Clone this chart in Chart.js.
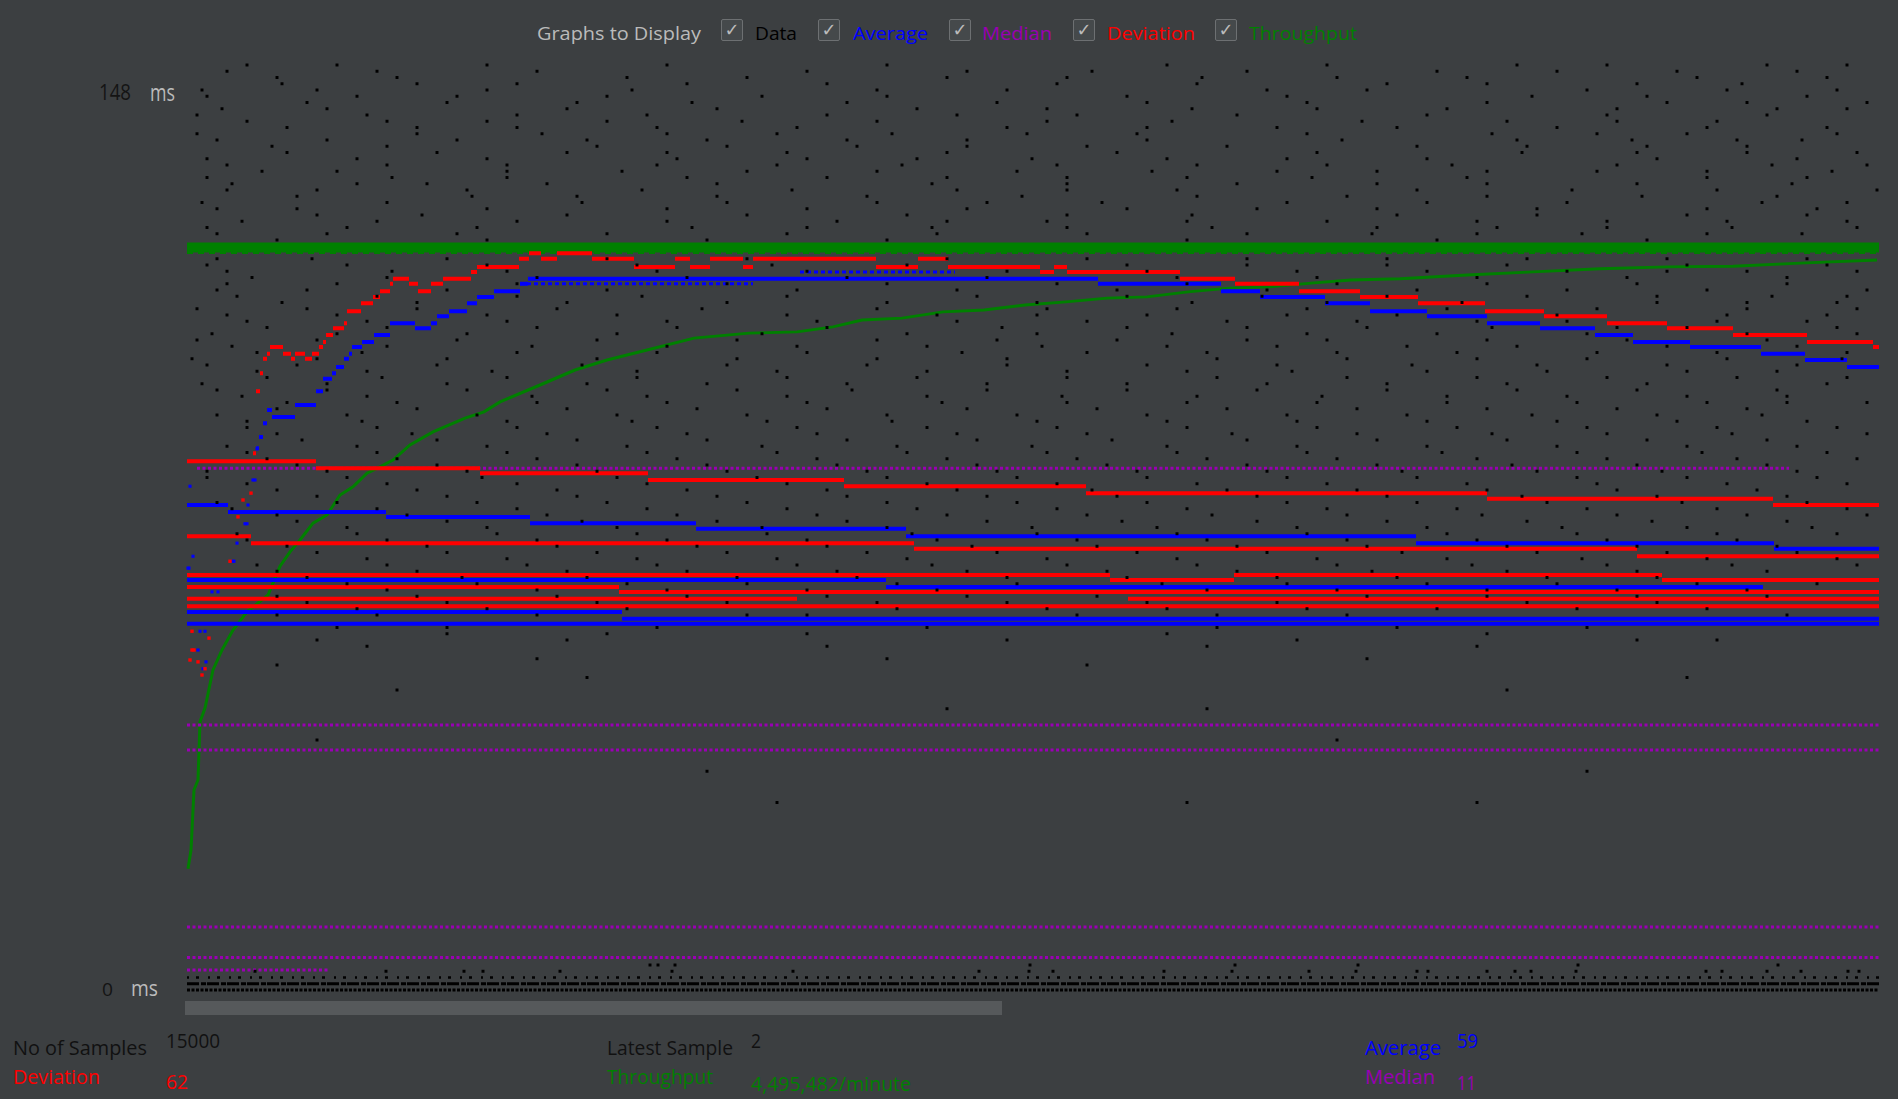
<!DOCTYPE html>
<html><head><meta charset="utf-8">
<script src="https://cdn.jsdelivr.net/npm/chart.js@4"></script>
<style>
html,body{margin:0;padding:0;background:#3c3f41;width:1898px;height:1099px;overflow:hidden;font-family:"Open Sans",sans-serif;}
#wrap{position:relative;width:1898px;height:1099px;}
#c{position:absolute;left:177px;top:55px;}
.t{position:absolute;white-space:nowrap;line-height:1;transform-origin:0 0;}
.cb{position:absolute;top:19px;width:22px;height:22px;border:1px solid #6d7072;border-radius:2px;background:#45494b;box-sizing:border-box;color:#bbbbbb;font-family:"DejaVu Sans",sans-serif;font-size:18px;line-height:20px;text-align:center;}
#scroll{position:absolute;left:185px;top:1001px;width:817px;height:14px;background:#56595b;}
</style></head>
<body><div id="wrap">
<div class="t" style="left:537px;top:24px;font-size:18px;color:#bbbbbb" data-w="164">Graphs to Display</div>
<div class="cb" style="left:721px">✓</div>
<div class="t" style="left:755px;top:24px;font-size:18px;color:#000" data-w="42">Data</div>
<div class="cb" style="left:818px">✓</div>
<div class="t" style="left:853px;top:24px;font-size:18px;color:#0000ff" data-w="75">Average</div>
<div class="cb" style="left:949px">✓</div>
<div class="t" style="left:982px;top:24px;font-size:18px;color:#9a00b4" data-w="70">Median</div>
<div class="cb" style="left:1073px">✓</div>
<div class="t" style="left:1107px;top:24px;font-size:18px;color:#ff0000" data-w="88">Deviation</div>
<div class="cb" style="left:1215px">✓</div>
<div class="t" style="left:1249px;top:24px;font-size:18px;color:#008000" data-w="108">Throughput</div>

<div class="t" style="left:99px;top:82.4px;font-size:21px;color:#141414" data-w="32">148</div>
<div class="t" style="left:150px;top:80.6px;font-size:23px;color:#bbbbbb" data-w="25">ms</div>
<div class="t" style="left:102px;top:980.1px;font-size:19px;color:#141414" data-w="11">0</div>
<div class="t" style="left:131px;top:978.4px;font-size:21px;color:#bbbbbb" data-w="27">ms</div>

<canvas id="c" width="1712" height="945"></canvas>
<div id="scroll"></div>

<div class="t" style="left:13px;top:1037.5px;font-size:20px;color:#111" data-w="134">No of Samples</div>
<div class="t" style="left:166px;top:1030.5px;font-size:20px;color:#111" data-w="54">15000</div>
<div class="t" style="left:607px;top:1037.5px;font-size:20px;color:#111" data-w="126">Latest Sample</div>
<div class="t" style="left:751px;top:1030.5px;font-size:20px;color:#111" data-w="10">2</div>
<div class="t" style="left:1365px;top:1037.5px;font-size:20px;color:#0000ff" data-w="76">Average</div>
<div class="t" style="left:1457px;top:1030.5px;font-size:20px;color:#0000ff" data-w="21">59</div>
<div class="t" style="left:13px;top:1066.5px;font-size:20px;color:#ff0000" data-w="87">Deviation</div>
<div class="t" style="left:166px;top:1071.5px;font-size:20px;color:#ff0000" data-w="22">62</div>
<div class="t" style="left:607px;top:1066.5px;font-size:20px;color:#008000" data-w="106">Throughput</div>
<div class="t" style="left:751px;top:1073.5px;font-size:20px;color:#008000" data-w="160">4,495,482/minute</div>
<div class="t" style="left:1365px;top:1066.5px;font-size:20px;color:#9a00b4" data-w="70">Median</div>
<div class="t" style="left:1457px;top:1072.5px;font-size:20px;color:#9a00b4" data-w="19">11</div>
</div>
<script>
// ---------- DATA (x = sample column on the graph, y = milliseconds) ----------
const xMax = 1692;
const yMax = 148;

// individual samples: rows of equal response time and the columns they fall on
const dataRowValues = [148,147,146,145,144,143,142,141,140,139,138,137,136,135,134,133,132,131,130,129,128,127,126,125,124,123,122,121,120,117,116,115,114,113,112,111,110,109,108,107,106,105,104,103,102,101,100,99,98,97,96,95,94,93,92,91,90,89,88,87,86,85,84,83,82,81,80,79,78,77,76,75,74,73,72,71,70,69,68,67,66,65,64,63,62,61,60,58,57,56,55,53,52,50,48,45,40,35,30,4,3];
const dataRowColumnsA = [
 [150,480,1140,1330],[40,620,905,1490,1610],[210,760,1015,1280],[95,330,870,1200,1555],
 [15,445,690,1080,1400,1650],[270,575,940,1345],[120,505,810,1120,1480,1680],[35,380,730,1005,1260,1590],
 [180,640,890,1420],[60,300,555,985,1175,1530],[230,470,820,1090,1370,1640],[10,355,705,950,1305,1500],
 [140,520,660,1155,1445,1615],[85,410,780,1040,1230,1560],[250,600,930,1335,1670],[20,170,490,845,1100,1470],
 [320,715,1010,1265,1585],[75,435,560,965,1190,1410,1645],[205,640,880,1125,1520],[45,360,745,1050,1300,1605],
 [130,455,605,990,1385,1690],[285,530,835,1160,1455],[15,395,690,915,1240,1575],[110,480,780,1070,1350,1630],
 [235,560,1005,1210,1500],[55,330,650,860,1140,1420,1660],[160,505,745,1025,1310,1545],[30,270,600,900,1185,1395,1615],
 [90,700,1250],
 [125,420,760,1060,1480],[20,300,585,940,1200,1640],[205,470,820,1110,1380,1560],[65,350,660,990,1290,1600],
 [150,540,870,1150,1450],[30,260,610,930,1230,1520,1680],[190,455,790,1075,1340,1585],[95,380,700,1005,1275,1470,1650],
 [10,230,515,860,1120,1410],[150,430,750,960,1210,1540],[60,320,630,900,1170,1380,1620],[200,490,815,1060,1305,1500],
 [25,280,575,720,985,1250,1560,1670],[130,410,690,930,1140,1440],[45,345,610,855,1090,1330,1610],[175,470,775,1020,1270,1530],
 [5,260,550,820,1160,1400,1655],[110,395,680,960,1225,1480],[70,305,590,880,1105,1360,1590],[195,450,730,1030,1290,1550],
 [15,260,520,800,1080,1320,1640],[140,420,665,940,1200,1450],[55,345,600,875,1135,1380,1600],[210,480,755,1000,1260,1520,1680],
 [90,380,640,910,1170,1430],[30,290,560,830,1100,1345,1575],[175,445,705,980,1240,1490],[60,330,610,870,1130,1400,1650],
 [225,500,770,1045,1305,1545],[115,390,660,925,1190,1460],[40,300,575,845,1110,1370,1610],[190,460,720,990,1255,1515],
 [80,350,630,890,1150,1420,1670],[250,520,790,1060,1325,1580],[140,410,680,950,1215,1475],[20,295,570,830,1100,1390,1630],
 [200,460,740,1010,1280,1540],[90,370,640,905,1170,1430],[260,530,800,1070,1335,1600],[150,420,700,960,1230,1495],
 [45,330,600,870,1140,1400,1660],[220,490,760,1025,1295,1560],[110,395,660,935,1200,1465],[300,575,845,1110,1375,1625],
 [170,450,725,990,1260,1530],[60,350,620,890,1160,1420],[240,510,785,1050,1320,1590],[130,410,680,950,1215,1480],
 [320,590,860,1130,1395,1650],[200,470,745,1010,1285,1545],[90,380,650,920,1185,1450],[275,550,820,1090,1360],
 [160,440,710,975,1240,1510],[350,620,1150,1430],[230,500,780,1300,1580],[120,410,690,960,1470],
 [300,860,1120,1390],[190,560,1030,1600],[260,740,1210],[420,980],[130,1110,1530],[640,1290],
 [350],[900],[1500],[210],[760],[1150],[520],[1000,1290],
 [463,471,488,843,1048,1171,1391,1591],
 [68,199,277,296,373,485,606,792,842,866,977,1045,1122,1169,1230,1241,1300,1328,1344,1389,1519,1535,1580,1614,1661,1672]
];
const dataRowColumnsB = [
 [60,300,700,980,1420,1580,1660],[190,350,780,1060,1250,1370],[90,440,560,880,1150,1510,1640],[230,500,640,1010,1300,1450],
 [130,300,820,1180,1540],[20,170,420,700,1100,1460,1620],[260,390,660,960,1300,1560],[140,530,860,1130,1430,1660],
 [10,330,460,770,1050,1240,1580],[200,420,690,860,1320,1430],[100,330,610,960,1210,1520],[230,480,590,840,1120,1410,1650],
 [30,270,400,780,960,1330,1550],[200,540,670,900,1340,1460],[100,380,480,760,1130,1450,1560],[300,620,730,980,1240,1610],
 [40,200,470,590,870,1140,1430,1680],[150,320,690,830,1090,1300,1520],[20,320,500,760,1000,1280,1620],[170,240,530,880,1190,1450],
 [40,280,770,880,1230,1530],[110,390,680,1010,1300,1590],[200,540,800,1100,1380,1660],[30,300,620,940,1190,1520],
 [130,380,720,880,1350,1620],[190,480,760,1000,1290,1540],[20,290,620,880,1190,1420,1670],[140,420,750,1060,1290,1520],
 [300,520,1000,1460],
 [30,260,560,900,1200,1340,1620],[160,450,720,1060,1320,1500],[40,320,620,960,1240,1480,1670],[200,500,800,1130,1440],
 [40,330,700,1000,1300,1600],[120,420,770,1080,1380],[50,330,600,940,1200,1470,1660],[230,540,850,1140,1560],
 [120,370,690,990,1260,1560,1670],[40,300,600,850,1100,1370,1640],[180,480,770,1040,1290,1530],[80,350,640,940,1180,1430,1650],
 [150,430,850,1120,1400],[10,270,550,810,1060,1300,1580],[200,480,740,980,1220,1480],[70,330,620,900,1150,1410,1660],
 [130,410,690,1030,1290,1540],[20,250,540,820,1090,1350,1610],[180,450,740,1000,1240,1500],[80,320,600,880,1160,1420,1660],
 [140,400,660,940,1200,1460],[30,280,550,800,1070,1330,1590],[180,460,740,1010,1260,1500],[100,350,620,880,1130,1390,1600],
 [230,510,780,1040,1300,1560],[160,430,700,960,1220,1470],[60,320,580,850,1110,1370,1620],[190,470,740,1000,1270,1530],
 [90,360,630,900,1170,1420,1680],[250,520,790,1060,1320,1580],[170,440,710,980,1240,1500],[60,320,590,860,1120,1390,1640],
 [210,490,760,1020,1290,1550],[110,390,650,920,1190,1450],[20,280,540,810,1080,1350,1610],[160,430,700,960,1230,1500],
 [60,330,600,870,1140,1410,1660],[230,500,770,1040,1300,1570],[130,390,660,930,1200,1470],[30,290,560,830,1100,1360,1620],
 [190,460,730,1000,1270,1530],[90,360,630,900,1160,1430,1680],[260,530,800,1070,1340,1600],[160,430,700,970,1240,1500],
 [50,310,580,850,1120,1390,1650],[200,480,750,1020,1290,1550],[100,370,640,910,1180,1450],[260,540,810,1080,1350,1610],
 [180,450,720,990,1260,1520],[70,340,610,880,1150,1420,1670],[230,500,780,1050,1320,1580],[120,400,670,940,1210,1470],
 [290,560,830,1100,1370,1630],[200,480,750,1020,1300,1560],[90,370,640,910,1180,1450],[260,540,820,1090,1340],
 [170,440,710,980,1250,1520],[90,350,620,890,1160],[150,470,1030,1400],[260,620,1300],[380,820,1450],[180,1020],
 [700,1180],[90],[400],[1320],[1020],[130],[1400],[590],
 [],
 []
];
// dense rows of very fast samples near zero
const denseRowValues = [0, 1, 2];

// Average: current pass (early unstable points, then steps)
const avgEarlyX = [1,2,3,6,11,13,16,18,19,25,31,46,47,50,58,60,61,66,68,70];
const avgEarlyV = [67.5,67.5,80.6,69.4,54.4,57.4,51.4,57.4,52.5,63.7,63.7,68.6,68.6,71.5,74.6,74.6,77.6,81.6,81.6,86.6];
const avgNowX = [69,72,76,80,85,108,129,136,145,149,157,162,165,175,187,203,228,244,250,262,280,290,307,333,341,911,1034,1073,1138,1183,1240,1300,1353,1408,1446,1503,1574,1618,1660,1692];
const avgNowV = [86.7,88.5,90.7,92.8,91.7,93.6,95.8,97.8,98.7,99.7,101.0,101.8,102.9,103.7,104.8,106.7,105.9,106.7,107.8,108.6,109.9,110.9,111.8,113.0,113.8,113.0,111.8,110.9,109.9,108.6,107.8,106.7,105.9,104.8,103.7,102.9,101.8,100.8,99.7];
const avgFlickerX = [[333,566],[613,768]];
const avgFlickerV = [113.0, 114.9];
// Average: earlier passes
const avgPassBX = [0,41,199,343,509,719,1229,1587,1692];
const avgPassBV = [77.6,76.5,75.7,74.7,73.8,72.6,71.5,70.6];
const avgPassEX = [0,699,1576];
const avgPassEV = [65.6,64.5];
const avgPassIX = [0,435,1692];
const avgPassIV = [60.5,59.4];
const avgPassJX = [0,1692];
const avgPassJV = [58.6];

// Deviation: current pass
const devEarlyX = [3,5,5,7,11,15,18,22,43,51,56,64];
const devEarlyV = [52.8,57.4,54.4,54.4,52.5,50.4,51.4,56.3,68.6,75.7,78.4,79.5];
const devNowX = [66,69,73,76,80,83,96,104,108,118,125,132,136,139,146,157,160,174,186,193,203,206,222,231,244,256,284,290,332,342,354,370,405,447,488,503,523,556,566,689,731,761,853,867,880,993,1048,1112,1173,1231,1298,1357,1420,1480,1546,1620,1686,1692];
const devNowV = [85.9,95.8,98.7,101.0,101.8,102.9,101.8,101.0,101.8,101.0,101.8,102.9,103.7,104.8,105.9,106.7,108.6,109.9,110.9,111.8,113.0,113.8,113.0,111.8,113.0,113.8,114.9,115.7,117.0,117.9,117.0,117.9,117.0,115.7,117.0,115.7,117.0,115.7,117.0,115.7,117.0,115.7,114.9,115.7,114.9,113.8,113.0,111.8,110.9,109.9,108.6,107.8,106.7,105.9,104.8,103.7,102.9];
// Deviation: earlier passes
const devPassAX = [0,129,293,461,657,899,1300,1586,1692];
const devPassAV = [84.6,83.5,82.7,81.6,80.6,79.5,78.6,77.6];
const devPassCX = [0,64,727,1450,1692];
const devPassCV = [72.6,71.5,70.6,69.4];
const devPassDX = [0,923,1047,1475,1692];
const devPassDV = [66.4,65.6,66.4,65.6];
const devPassFX = [0,432,1692];
const devPassFV = [64.5,63.7];
const devPassGX = [0,610,941,1692];
const devPassGV = [62.6,null,62.6];
const devPassHX = [0,1692];
const devPassHV = [61.4];

// Median passes
const medianFrom = [10,0,0,0,0,0];
const medianTo   = [1602,1692,1692,1692,1692,143];
const medianV    = [83.5,42.4,38.4,10.1,5.2,3.2];

// Throughput (scaled onto the same axis)
const tpBandV = [118.8, 118.0];
const tpNowX = [1,4,5,7,11,13,18,26,35,46,60,81,93,103,113,126,140,153,166,180,193,206,223,246,278,297,313,353,388,420,460,507,562,610,646,675,715,756,797,838,879,920,960,1001,1042,1083,1124,1164,1213,1280,1346,1413,1480,1546,1613,1690];
const tpNowV = [19.4,22.4,25.6,32.0,33.6,42.9,45.1,51.2,54.4,57.6,60.5,63.2,67.8,70.1,72.0,74.7,76.0,79.2,80.5,82.7,83.7,84.8,87.2,89.3,91.5,92.5,94.1,96.8,99.2,100.8,102.4,104.3,105.1,105.3,106.1,107.2,107.5,108.5,108.8,109.6,110.1,110.7,110.9,111.7,112.3,112.5,113.1,113.6,113.8,114.4,114.9,115.4,115.7,115.8,116.3,116.8];

// ---------- BUILD ----------
const RED='#ff0000', BLUE='#0000ff', PURPLE='#9a00b4', GREEN='#008000';
function steps(xs, vs){
  const p=[];
  for(let i=0;i<vs.length;i++){
    if(vs[i]===null){p.push({x:xs[i],y:null});continue;}
    p.push({x:xs[i],y:vs[i]}); p.push({x:xs[i+1],y:vs[i]}); p.push({x:xs[i+1],y:null});
  }
  return p;
}
function pts(xs, vs){ return xs.map((x,i)=>({x:x,y:vs[i]})); }
function lineDs(data,color,width,order,dash){
  return {data:data,showLine:true,borderColor:color,backgroundColor:color,borderWidth:width,pointRadius:0,
          borderCapStyle:'butt',borderDash:dash||[],spanGaps:false,tension:0,order:order,clip:false};
}
function dotDs(data,color,r,order){
  return {data:data,showLine:false,pointStyle:'rect',pointRadius:r,backgroundColor:color,borderWidth:0,order:order,clip:false};
}

const samplePts=[];
dataRowValues.forEach((v,i)=>{
  dataRowColumnsA[i].forEach(x=>samplePts.push({x:x,y:v}));
  dataRowColumnsB[i].forEach(x=>samplePts.push({x:x,y:v}));
});

const datasets=[];
datasets.push(dotDs(samplePts,'#000000',2.1,0));
datasets.push(lineDs([{x:0,y:denseRowValues[0]},{x:xMax,y:denseRowValues[0]}],'#000000',3,0,[3,1.5]));
datasets.push(lineDs([{x:0,y:denseRowValues[1]},{x:xMax,y:denseRowValues[1]}],'#000000',3,0,[12,2,5,1]));
datasets.push(lineDs([{x:0,y:denseRowValues[2]},{x:xMax,y:denseRowValues[2]}],'#000000',2.5,0,[2,7,3,9]));

// deviation
[[devNowX,devNowV],[devPassAX,devPassAV],[devPassCX,devPassCV],[devPassDX,devPassDV],[devPassFX,devPassFV],[devPassGX,devPassGV],[devPassHX,devPassHV]]
 .forEach(([xs,vs])=>datasets.push(lineDs(steps(xs,vs),RED,4,1)));
datasets.push(dotDs(pts(devEarlyX,devEarlyV),RED,2.4,1));
// average
[[avgNowX,avgNowV],[avgPassBX,avgPassBV],[avgPassEX,avgPassEV],[avgPassIX,avgPassIV],[avgPassJX,avgPassJV]]
 .forEach(([xs,vs])=>datasets.push(lineDs(steps(xs,vs),BLUE,4,2)));
avgFlickerX.forEach((r,i)=>datasets.push(lineDs([{x:r[0],y:avgFlickerV[i]},{x:r[1],y:avgFlickerV[i]}],BLUE,3,2,[4,3])));
datasets.push(dotDs(pts(avgEarlyX,avgEarlyV),BLUE,2.2,2));
// median
medianV.forEach((v,i)=>datasets.push(lineDs([{x:medianFrom[i],y:v},{x:medianTo[i],y:v}],PURPLE,3,3,[3,2.5])));
// throughput
datasets.push(lineDs([{x:0,y:tpBandV[0]},{x:xMax,y:tpBandV[0]}],GREEN,10,4));
datasets.push(lineDs([{x:0,y:tpBandV[1]},{x:xMax,y:tpBandV[1]}],GREEN,3,4,[6,5]));
datasets.push(lineDs(pts(tpNowX,tpNowV),GREEN,3,4));

new Chart(document.getElementById('c'),{
  type:'scatter',
  data:{datasets:datasets},
  options:{responsive:false,animation:false,devicePixelRatio:1,events:[],
    layout:{padding:10},
    plugins:{legend:{display:false},tooltip:{enabled:false}},
    scales:{x:{type:'linear',min:0,max:xMax,display:false},y:{type:'linear',min:0,max:yMax,display:false}}}
});

function fit(){
  document.querySelectorAll('.t[data-w]').forEach(el=>{
    el.style.transform='none';
    const n=el.getBoundingClientRect().width;
    if(n>0) el.style.transform='scaleX('+(+el.dataset.w/n)+')';
  });
}
fit();
if(document.fonts&&document.fonts.ready) document.fonts.ready.then(fit);
</script>
</body></html>
